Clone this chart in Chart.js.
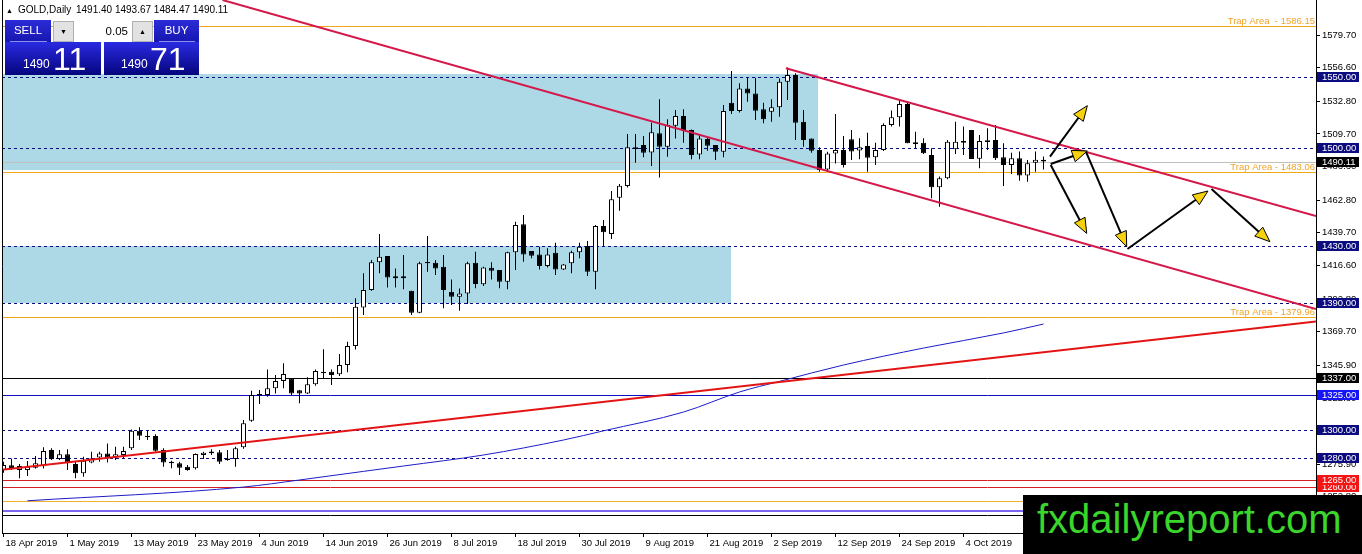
<!DOCTYPE html>
<html>
<head>
<meta charset="utf-8">
<title>GOLD Daily</title>
<script src="https://cdn.jsdelivr.net/npm/chart.js@4.4.1/dist/chart.umd.min.js"></script>
<style>
body{margin:0;background:#fff;overflow:hidden}
#wrap{position:relative;width:1362px;height:554px;font-family:'Liberation Sans',Arial,sans-serif}
canvas{position:absolute;left:0;top:0}
.hdr{position:absolute;top:4px;font-size:10px;line-height:12px;color:#000;white-space:pre}
.btn{position:absolute;top:20px;height:22px;background:linear-gradient(#2c2cd8,#1616b0);color:#fff;font-size:11.5px;line-height:21px;text-align:center}
.btn i{position:absolute;left:5px;right:4px;bottom:0;height:1px;background:#8c8cf0}
.sell{left:5px;width:46px}
.buy{left:154px;width:45px}
.lot{position:absolute;left:53px;top:20px;width:100px;height:22px;background:#fff}
.spin{position:absolute;top:1px;width:19px;height:19px;background:#e2e2e2;border:1px solid #b0b0b0;font-size:7px;line-height:19px;text-align:center;color:#000}
.val{position:absolute;left:0;width:75px;top:0;font-size:11.5px;line-height:22px;text-align:right;color:#000}
.px{position:absolute;top:42px;height:33px;background:linear-gradient(#2a2ae2,#05057e);color:#fff}
.px span{position:absolute;line-height:1;white-space:nowrap}
.sm{font-size:12px;top:16px}
.bg{font-size:32px;top:1px}
.mark{position:absolute;left:1023px;top:495px;width:339px;height:59px;background:#000}
.mark span{position:absolute;left:14px;top:4px;font-size:40px;line-height:40px;color:#3ad62c;white-space:nowrap}
</style>
</head>
<body>
<div id="wrap">
<canvas id="gold" width="1362" height="554"></canvas>
<div class="hdr" style="left:6px;top:5px;font-size:7px">▲</div>
<div class="hdr" style="left:18px">GOLD,Daily</div>
<div class="hdr" style="left:76px">1491.40 1493.67 1484.47 1490.11</div>
<div class="btn sell">SELL<i></i></div>
<div class="lot"><div class="spin" style="left:0">▼</div><div class="val">0.05</div><div class="spin" style="left:79px">▲</div></div>
<div class="btn buy">BUY<i></i></div>
<div class="px" style="left:5px;width:96px"><span class="sm" style="left:18px">1490</span><span class="bg" style="left:48px">11</span></div>
<div class="px" style="left:104px;width:95px"><span class="sm" style="left:17px">1490</span><span class="bg" style="left:46px">71</span></div>
<div class="mark"><span>fxdailyreport.com</span></div>
</div>
<script>
// daily candles, 18 Apr 2019 .. 17 Oct 2019
const opens = [
  1271.8, 1275.1, 1271.8, 1271.8, 1273.4, 1274.8, 1285.9, 1279.5, 1282.9, 1276.0,
  1269.4, 1277.0, 1280.7, 1283.5, 1280.7, 1282.4, 1287.1, 1299.6, 1296.1, 1295.8,
  1285.9, 1277.7, 1276.5, 1274.1, 1273.0, 1282.4, 1283.6, 1284.3, 1280.0, 1279.5,
  1287.8, 1306.7, 1324.4, 1324.9, 1329.6, 1334.8, 1336.7, 1328.2, 1326.0, 1332.4,
  1341.4, 1341.4, 1339.5, 1346.1, 1359.5, 1386.9, 1399.2, 1418.8, 1423.2, 1409.0,
  1407.6, 1398.7, 1383.1, 1419.0, 1418.5, 1415.7, 1398.0, 1394.5, 1396.8, 1418.5,
  1403.2, 1415.0, 1413.3, 1405.1, 1425.9, 1445.7, 1426.8, 1424.4, 1416.2, 1425.6,
  1413.8, 1418.1, 1425.9, 1430.3, 1412.2, 1444.5, 1438.8, 1464.6, 1472.8, 1500.2,
  1501.8, 1496.6, 1510.1, 1500.6, 1515.5, 1522.4, 1512.4, 1495.2, 1506.1, 1501.8,
  1497.1, 1531.8, 1525.9, 1541.9, 1538.4, 1527.1, 1525.4, 1528.5, 1546.7, 1551.4,
  1518.3, 1506.5, 1498.3, 1484.6, 1495.9, 1498.3, 1505.9, 1497.9, 1501.2, 1493.2,
  1498.3, 1516.0, 1521.5, 1530.9, 1503.8, 1503.5, 1494.8, 1471.9, 1478.3, 1498.8,
  1504.6, 1512.5, 1492.2, 1505.2, 1505.4, 1493.2, 1487.7, 1492.4, 1480.2, 1489.3,
  1491.40
];
const highs = [
  1277.7, 1280.0, 1276.0, 1278.1, 1281.7, 1287.8, 1287.1, 1285.9, 1286.4, 1277.7,
  1281.2, 1284.7, 1284.7, 1290.6, 1288.3, 1288.3, 1300.5, 1302.0, 1300.0, 1297.0,
  1287.1, 1278.4, 1277.7, 1275.3, 1283.5, 1284.7, 1286.4, 1286.0, 1285.9, 1288.3,
  1307.2, 1327.9, 1328.4, 1343.0, 1339.0, 1347.3, 1336.7, 1328.4, 1337.4, 1343.0,
  1357.2, 1343.0, 1353.9, 1362.6, 1393.3, 1411.0, 1420.4, 1438.8, 1423.2, 1414.5,
  1424.0, 1398.7, 1419.2, 1437.4, 1420.4, 1424.0, 1406.7, 1400.3, 1419.2, 1426.3,
  1415.7, 1418.8, 1413.3, 1426.3, 1447.6, 1452.3, 1426.8, 1429.9, 1428.7, 1432.7,
  1417.6, 1427.0, 1432.7, 1433.9, 1445.2, 1448.7, 1469.3, 1474.2, 1509.6, 1509.6,
  1508.2, 1517.6, 1534.2, 1520.0, 1526.6, 1527.1, 1512.9, 1508.9, 1507.2, 1501.8,
  1530.1, 1554.2, 1545.5, 1549.5, 1549.5, 1531.8, 1534.2, 1549.0, 1556.8, 1552.6,
  1526.6, 1506.5, 1500.2, 1497.1, 1523.8, 1508.2, 1512.5, 1506.6, 1510.6, 1503.5,
  1517.2, 1526.2, 1534.2, 1532.6, 1511.3, 1506.6, 1499.5, 1479.5, 1505.4, 1518.4,
  1514.9, 1512.5, 1509.0, 1513.7, 1516.0, 1503.1, 1496.4, 1497.2, 1491.3, 1497.2,
  1493.67
];
const lows = [
  1269.9, 1271.8, 1265.9, 1267.5, 1272.9, 1272.9, 1278.8, 1278.8, 1271.8, 1265.9,
  1267.0, 1276.5, 1277.7, 1277.0, 1278.8, 1280.0, 1285.9, 1293.0, 1293.0, 1284.7,
  1274.1, 1273.0, 1268.2, 1271.3, 1272.2, 1279.5, 1282.4, 1276.0, 1278.4, 1274.1,
  1286.8, 1306.0, 1318.5, 1323.7, 1326.0, 1329.6, 1324.9, 1319.0, 1325.6, 1331.5,
  1336.7, 1332.0, 1338.3, 1340.9, 1357.0, 1381.5, 1398.7, 1411.0, 1401.0, 1401.0,
  1399.7, 1381.5, 1382.7, 1412.2, 1409.8, 1386.2, 1388.6, 1384.6, 1389.3, 1400.4,
  1402.0, 1406.7, 1400.4, 1399.7, 1413.3, 1419.2, 1421.6, 1413.8, 1415.2, 1409.8,
  1413.3, 1411.0, 1421.6, 1409.1, 1399.7, 1429.9, 1435.3, 1455.3, 1471.8, 1489.3,
  1493.1, 1487.0, 1478.9, 1493.6, 1506.5, 1503.5, 1491.7, 1491.7, 1497.8, 1491.2,
  1493.1, 1523.8, 1524.9, 1532.5, 1519.5, 1517.2, 1518.3, 1521.9, 1533.7, 1505.4,
  1500.6, 1496.4, 1482.9, 1484.1, 1488.8, 1486.0, 1491.3, 1491.7, 1483.0, 1487.7,
  1497.6, 1514.9, 1514.9, 1503.1, 1499.5, 1495.5, 1464.1, 1458.2, 1477.6, 1495.5,
  1494.8, 1492.0, 1485.4, 1498.3, 1491.3, 1472.8, 1481.3, 1476.6, 1475.9, 1483.0,
  1484.47
];
const closes = [
  1275.3, 1273.2, 1274.6, 1274.1, 1276.5, 1285.2, 1279.3, 1282.9, 1277.0, 1269.4,
  1278.4, 1280.0, 1283.5, 1280.7, 1282.9, 1285.2, 1299.6, 1296.1, 1295.0, 1285.4,
  1277.0, 1276.5, 1273.4, 1271.8, 1283.1, 1284.0, 1284.8, 1277.7, 1278.8, 1287.1,
  1304.8, 1324.9, 1325.6, 1329.6, 1334.8, 1339.7, 1326.0, 1326.0, 1332.4, 1341.9,
  1340.2, 1339.0, 1346.1, 1359.5, 1387.4, 1399.2, 1418.8, 1422.8, 1408.1, 1407.6,
  1409.0, 1383.1, 1418.1, 1418.1, 1414.5, 1399.2, 1394.5, 1396.8, 1418.1, 1403.4,
  1415.2, 1412.9, 1405.1, 1425.9, 1445.2, 1424.4, 1423.5, 1416.2, 1424.4, 1413.8,
  1417.3, 1425.9, 1429.9, 1412.2, 1444.5, 1440.0, 1463.4, 1473.0, 1500.2, 1499.0,
  1496.4, 1510.8, 1500.6, 1516.0, 1522.4, 1512.4, 1494.7, 1506.5, 1501.3, 1497.1,
  1525.9, 1525.9, 1541.9, 1538.4, 1526.1, 1520.0, 1528.5, 1546.7, 1551.4, 1517.6,
  1505.4, 1497.8, 1484.1, 1495.9, 1498.3, 1487.7, 1497.2, 1500.2, 1492.9, 1498.3,
  1516.0, 1521.5, 1530.9, 1503.1, 1502.6, 1496.0, 1471.9, 1478.3, 1504.2, 1504.2,
  1503.4, 1492.0, 1504.7, 1504.0, 1492.4, 1487.7, 1492.4, 1480.2, 1488.9, 1491.4,
  1490.11
];

// time axis: one label every 8 bars
const tickIdx = [0, 8, 16, 24, 32, 40, 48, 56, 64, 72, 80, 88, 96, 104, 112, 120, 128];
const tickLabels = ['18 Apr 2019', '1 May 2019', '13 May 2019', '23 May 2019', '4 Jun 2019',
  '14 Jun 2019', '26 Jun 2019', '8 Jul 2019', '18 Jul 2019', '30 Jul 2019', '9 Aug 2019',
  '21 Aug 2019', '2 Sep 2019', '12 Sep 2019', '24 Sep 2019', '4 Oct 2019', '16 Oct 2019'];
const yTicks = [1579.7, 1556.6, 1532.8, 1509.7, 1486.6, 1462.8, 1439.7, 1416.6, 1392.8,
  1369.7, 1345.9, 1322.8, 1299.7, 1275.9, 1252.8];

// moving average (blue), sampled along the curve
const maIdx = [3, 30, 37, 45, 50, 60, 70, 75, 85, 92, 97, 105, 115, 125, 130];
const maVal = [1250.0, 1259.7, 1264.7, 1270.8, 1274.6, 1282.4, 1293.0, 1299.5, 1312.8,
  1327.0, 1334.5, 1346.1, 1358.1, 1368.8, 1375.1];

// trend lines: [bar index, price] end points
const descLineX = [27.375, 164.0625], descLineY = [1604.5, 1385.8];
const channelX = [97.8, 164.0625], channelY = [1556.2, 1451.6];
const riseLineX = [-0.375, 164.0625], riseLineY = [1271.8, 1376.9];

// shaded zones
const zoneTop = [1552, 1430];
const zoneBottom = [1484, 1390];
const zoneEnd = [101.8, 90.9];

// horizontal levels
const dashedLevels = [1550, 1500, 1430, 1390, 1300, 1280];
const trapLevels = [1586.15, 1483.06, 1379.96];
const bidPrice = 1490.11;
const blackLevels = [1337];
const blueLevels = [1325];
const redLevels = [1260, 1265];
const floorLevels = [1250, 1243, 1240];

// forecast arrows
const arrowX0 = [130.81, 130.9, 130.9, 135.3, 140.5, 151.0];
const arrowY0 = [1493.6, 1488.4, 1487.7, 1497.1, 1428.2, 1470.7];
const arrowX1 = [135.48, 135.48, 135.4, 140.4, 150.56, 158.3];
const arrowY1 = [1529.7, 1497.6, 1439.3, 1429.9, 1469.3, 1433.4];

const navy = '#0c0c80', trapColor = '#f0a428';
const floorStyle = [
  {color: '#f0b030', width: 1},
  {color: '#7b68ee', width: 2},
  {color: '#000000', width: 1}
];

function hline(ctx, area, py, color, width, dash){
  const yy = width % 2 ? Math.round(py) + 0.5 : Math.round(py);
  ctx.beginPath();
  ctx.setLineDash(dash || []);
  ctx.strokeStyle = color;
  ctx.lineWidth = width;
  ctx.moveTo(area.left, yy);
  ctx.lineTo(area.right, yy);
  ctx.stroke();
  ctx.setLineDash([]);
}

const levelsPlugin = {
  id: 'levels',
  beforeDatasetsDraw(chart){
    const {ctx, chartArea: a, scales: {x, y}} = chart;
    ctx.save();
    ctx.beginPath();
    ctx.rect(a.left, a.top, a.right - a.left, a.bottom - a.top);
    ctx.clip();
    ctx.fillStyle = '#add8e6';
    zoneTop.forEach(function(t, k){
      const y1 = Math.round(y.getPixelForValue(t));
      const y2 = Math.round(y.getPixelForValue(zoneBottom[k]));
      const x2 = Math.round(x.getPixelForValue(zoneEnd[k]));
      ctx.fillRect(a.left, y1, x2 - a.left, y2 - y1);
    });
    floorLevels.forEach(function(v, k){
      hline(ctx, a, y.getPixelForValue(v), floorStyle[k].color, floorStyle[k].width);
    });
    redLevels.forEach(v => hline(ctx, a, y.getPixelForValue(v), '#d42020', 1));
    blueLevels.forEach(v => hline(ctx, a, y.getPixelForValue(v), '#1010c0', 1));
    blackLevels.forEach(v => hline(ctx, a, y.getPixelForValue(v), '#000000', 1));
    trapLevels.forEach(v => hline(ctx, a, y.getPixelForValue(v), '#f0a818', 1));
    hline(ctx, a, y.getPixelForValue(bidPrice), '#c0c0c0', 1);
    dashedLevels.forEach(v => hline(ctx, a, y.getPixelForValue(v), navy, 1, [3, 3]));
    ctx.restore();
  },
  afterDatasetsDraw(chart){
    const {ctx, chartArea: a, scales: {x, y}} = chart;
    ctx.save();
    ctx.beginPath();
    ctx.rect(a.left, a.top, a.right - a.left, a.bottom - a.top);
    ctx.clip();
    arrowX0.forEach(function(v, k){
      const x0 = x.getPixelForValue(v), y0 = y.getPixelForValue(arrowY0[k]);
      const x1 = x.getPixelForValue(arrowX1[k]), y1 = y.getPixelForValue(arrowY1[k]);
      const len = Math.hypot(x1 - x0, y1 - y0);
      const ux = (x1 - x0) / len, uy = (y1 - y0) / len;
      ctx.strokeStyle = '#000';
      ctx.lineWidth = 2;
      ctx.beginPath();
      ctx.moveTo(x0, y0);
      ctx.lineTo(x1 - ux * 6, y1 - uy * 6);
      ctx.stroke();
      const bx = x1 - ux * 15, by = y1 - uy * 15;
      ctx.beginPath();
      ctx.moveTo(x1, y1);
      ctx.lineTo(bx - uy * 6, by + ux * 6);
      ctx.lineTo(bx + uy * 6, by - ux * 6);
      ctx.closePath();
      ctx.fillStyle = '#f5d20c';
      ctx.fill();
      ctx.lineWidth = 1;
      ctx.stroke();
    });
    ctx.restore();
  },
  afterDraw(chart){
    const {ctx, chartArea: a, scales: {y}} = chart;
    ctx.save();
    // left frame
    ctx.strokeStyle = '#000';
    ctx.lineWidth = 1;
    ctx.beginPath();
    ctx.moveTo(a.left + 0.5, a.top);
    ctx.lineTo(a.left + 0.5, a.bottom);
    ctx.stroke();
    ctx.font = '9.5px ' + Chart.defaults.font.family;
    // trap labels
    ctx.fillStyle = trapColor;
    ctx.textAlign = 'right';
    ctx.textBaseline = 'alphabetic';
    trapLevels.forEach(function(v, k){
      const txt = (k === 0 ? 'Trap Area  - ' : 'Trap Area - ') + v.toFixed(2);
      ctx.fillText(txt, a.right - 1, Math.round(y.getPixelForValue(v)) - 2);
    });
    // price boxes on the axis
    ctx.textAlign = 'left';
    ctx.textBaseline = 'middle';
    function box(v, bg){
      const py = Math.round(y.getPixelForValue(v));
      ctx.fillStyle = bg;
      ctx.fillRect(a.right + 1, py - 5, 42, 10);
      ctx.fillStyle = '#fff';
      ctx.fillText(v.toFixed(2), a.right + 6, py + 0.5);
    }
    dashedLevels.forEach(v => box(v, navy));
    blackLevels.forEach(v => box(v, '#000'));
    blueLevels.forEach(v => box(v, '#1414f4'));
    redLevels.forEach(v => box(v, '#f41414'));
    box(bidPrice, '#000');
    ctx.restore();
  }
};

Chart.defaults.font.family = "'Liberation Sans', Arial, sans-serif";
Chart.defaults.color = '#000';

const bars = opens.map((o, i) => i);
const bodyData = bars.map(i => ({x: i, y: [opens[i], closes[i]]}));
const wickData = bars.map(i => ({x: i, y: [lows[i], highs[i]]}));
const bodyFill = bars.map(i => closes[i] > opens[i] ? '#ffffff' : '#000000');

function segment(xs, ys){
  return xs.map((v, k) => ({x: v, y: ys[k]}));
}

new Chart(document.getElementById('gold'), {
  type: 'bar',
  data: {
    datasets: [
      {label: 'wick', data: wickData, backgroundColor: '#000', borderWidth: 0,
        barThickness: 1, grouped: false, inflateAmount: 0, order: 4},
      {label: 'body', data: bodyData, backgroundColor: bodyFill, borderColor: '#000',
        borderWidth: 1, borderSkipped: false, barThickness: 5, minBarLength: 1,
        grouped: false, inflateAmount: 0, order: 3},
      {type: 'line', label: 'MA', data: segment(maIdx, maVal), borderColor: '#1c1cc8',
        borderWidth: 1, pointRadius: 0, cubicInterpolationMode: 'monotone', order: 2},
      {type: 'line', label: 'rise', data: segment(riseLineX, riseLineY), borderColor: '#e41414',
        borderWidth: 2, pointRadius: 0, order: 1},
      {type: 'line', label: 'desc', data: segment(descLineX, descLineY), borderColor: '#d4184a',
        borderWidth: 2, pointRadius: 0, order: 1},
      {type: 'line', label: 'channel', data: segment(channelX, channelY), borderColor: '#d4184a',
        borderWidth: 2, pointRadius: 0, order: 1}
    ]
  },
  options: {
    responsive: false,
    animation: false,
    events: [],
    layout: {padding: {left: 2, right: 0, top: 0, bottom: 0}},
    plugins: {legend: {display: false}, tooltip: {enabled: false}},
    scales: {
      x: {
        type: 'linear',
        min: -0.1875,
        max: 164.0625,
        offset: false,
        grid: {drawOnChartArea: false, drawTicks: true, tickLength: 4, color: '#000', offset: false},
        border: {display: true, color: '#000'},
        ticks: {
          autoSkip: false, maxRotation: 0, align: 'start', labelOffset: 2, padding: 1,
          font: {size: 9.5},
          callback: function(v){ const k = tickIdx.indexOf(v); return k >= 0 ? tickLabels[k] : ''; }
        },
        afterBuildTicks: function(s){ s.ticks = tickIdx.map(v => ({value: v})); },
        afterFit: function(s){ s.height = 21; s.paddingLeft = 0; s.paddingRight = 0; }
      },
      y: {
        type: 'linear',
        position: 'right',
        min: 1227.17,
        max: 1604.51,
        grid: {drawOnChartArea: false, drawTicks: true, tickLength: 4, color: '#000'},
        border: {display: true, color: '#000'},
        ticks: {
          autoSkip: false, padding: 2, font: {size: 9.5},
          callback: function(v){ return v.toFixed(2); }
        },
        afterBuildTicks: function(s){ s.ticks = yTicks.map(v => ({value: v})); },
        afterFit: function(s){ s.width = 46; s.paddingTop = 0; s.paddingBottom = 0; }
      }
    }
  },
  plugins: [levelsPlugin]
});
</script>
</body>
</html>
